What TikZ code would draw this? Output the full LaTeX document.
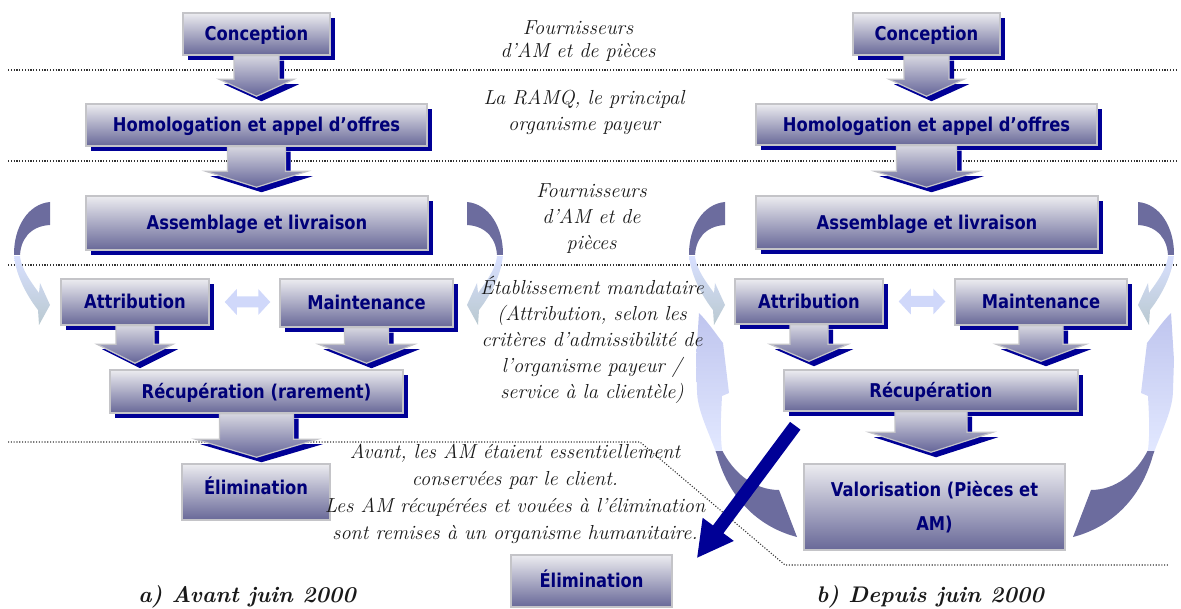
\documentclass[tikz,border=0pt]{standalone}
\usepackage{fontspec}
\usetikzlibrary{shadows,arrows.meta,calc}
\newfontfamily\boxfont[FakeStretch=0.86]{DejaVu Sans}

\definecolor{shadowblue}{RGB}{0,0,150}
\definecolor{textnavy}{RGB}{0,0,120}
\definecolor{boxtop}{RGB}{236,236,240}
\definecolor{boxbot}{RGB}{104,104,152}
\definecolor{boxline}{RGB}{196,196,200}
\definecolor{arrtop}{RGB}{214,214,224}
\definecolor{arrbot}{RGB}{100,100,152}
\definecolor{curvedark}{RGB}{108,108,158}
\definecolor{sltop}{RGB}{216,224,255}
\definecolor{slbot}{RGB}{184,200,206}
\definecolor{bltop}{RGB}{190,196,238}
\definecolor{blmid}{RGB}{164,172,230}
\definecolor{blbot}{RGB}{226,232,255}
\definecolor{dblfill}{RGB}{208,216,250}
\definecolor{notegray}{RGB}{25,25,25}

% block arrow outline from the bottom of one box to just above the next one
% #3 half shaft width, #4 half head width, #5 head length, #6 gap, #7/#8 offset
\newcommand\barrowpath[8]{let \p1=(#1.south), \p2=(#2.north) in
 (\x1-#3+#7,\y1-#8) -- (\x1-#3+#7,\y2+#6+#5-#8) -- (\x1-#4+#7,\y2+#6+#5-#8)
 -- (\x1+#7,\y2+#6-#8) -- (\x1+#4+#7,\y2+#6+#5-#8) -- (\x1+#3+#7,\y2+#6+#5-#8)
 -- (\x1+#3+#7,\y1-#8) -- cycle}
\newcommand\blockarrow[6]{%
 \fill[shadowblue] \barrowpath{#1}{#2}{#3}{#4}{#5}{#6}{5pt}{5pt};
 \path[draw=boxline,line width=1.2pt,top color=arrtop,bottom color=arrbot]
   \barrowpath{#1}{#2}{#3}{#4}{#5}{#6}{0pt}{0pt};}
% two-headed arrow between two boxes of the same row
\newcommand\dblarrow[2]{%
 \fill[dblfill] let \p1=(#1.east), \p2=(#2.west) in
  (\x1+15pt,\y1) -- (\x1+27pt,\y1+13pt) -- (\x1+27pt,\y1+5.5pt) -- (\x2-21pt,\y1+5.5pt)
  -- (\x2-21pt,\y1+13pt) -- (\x2-9pt,\y1) -- (\x2-21pt,\y1-13pt) -- (\x2-21pt,\y1-5.5pt)
  -- (\x1+27pt,\y1-5.5pt) -- (\x1+27pt,\y1-13pt) -- cycle;}
% large return loop, dark back face and light front face
\newcommand\bigloop[1]{%
 \begin{scope}[#1]
   \clip[bigcurve];
   \fill[curvedark] (680,451) rectangle (810,545);
   \shade[top color=bltop,middle color=blmid,bottom color=blbot] (680,310) rectangle (740,451);
 \end{scope}}
% small curved arrow, dark back face and light front face
\newcommand\smallloop[1]{%
 \begin{scope}[#1]
   \clip[smallcurve];
   \fill[curvedark] (-40,-2) rectangle (5,53);
   \shade[top color=sltop,bottom color=slbot] (-40,54.5) rectangle (5,126);
 \end{scope}}

\begin{document}
\begin{tikzpicture}[x=1pt,y=-1pt,
  gbox/.style={draw=boxline,line width=1.5pt,top color=boxtop,bottom color=boxbot,
    inner sep=0pt,font=\boxfont\bfseries\fontsize{19}{23}\selectfont,text=textnavy,align=center},
  oneline/.style={text height=13.5pt,text depth=0pt},
  shadowed/.style={drop shadow={shadow xshift=5pt,shadow yshift=-5pt,fill=shadowblue,opacity=1}},
  itext/.style={font=\itshape\fontsize{20.3}{26}\selectfont,align=center,text=notegray,inner sep=0pt},
  captext/.style={font=\bfseries\itshape\fontsize{22.6}{26}\selectfont,text=notegray,inner sep=0pt},
  dots/.style={line width=1.1pt,dash pattern=on 1.1pt off 1.7pt,black!80},
  smallcurve/.style={insert path={(0,0) .. controls (-22,2) and (-36,25) .. (-36,52)
     .. controls (-35,72) and (-23,94) .. (-12,108) -- (-11,123) -- (0,103) -- (-10,81)
     -- (-11,91) .. controls (-19,80) and (-28,68) .. (-30,55)
     .. controls (-30,38) and (-20,24) .. (0,23) -- cycle}},
  bigcurve/.style={insert path={(797,537) .. controls (762,528) and (730,502) .. (717,455)
     .. controls (708,430) and (697,410) .. (697,390) -- (696,360) -- (699,313)
     .. controls (708,322) and (716,334) .. (723,343) -- (729,393)
     -- (722,396) .. controls (721,415) and (720,432) .. (722,450)
     .. controls (734,474) and (755,490) .. (779,490) -- cycle}},
]
\useasboundingbox (0,0) rectangle (1181,609);

% separators between the actors' bands
\draw[dots] (8,70) -- (1178,70);
\draw[dots] (8,161) -- (1178,161);
\draw[dots] (8,265) -- (1178,265);
\draw[dots] (8,442) -- (640,442) -- (785,565) -- (1168,565);

% large return loops of the recovery cycle
\bigloop{shift={(0,0)}}
\bigloop{shift={(1870,0)},xscale=-1}

% small curved arrows from assembly to attribution / maintenance
\smallloop{shift={(50,202)}}
\smallloop{shift={(467,202)},xscale=-1}
\smallloop{shift={(725,202)}}
\smallloop{shift={(1138,202)},xscale=-1}

% a) before June 2000
\node[gbox,oneline,shadowed,minimum width=147pt,minimum height=42pt] (cA) at (256.5,34) {Conception};
\node[gbox,oneline,shadowed,minimum width=341pt,minimum height=42pt] (hA) at (256.5,125) {Homologation et appel d’offres};
\node[gbox,oneline,shadowed,minimum width=342pt,minimum height=54pt] (aA) at (257,223) {Assemblage et livraison};
\node[gbox,oneline,shadowed,minimum width=148pt,minimum height=46pt] (atA) at (135,302) {Attribution};
\node[gbox,oneline,shadowed,minimum width=173pt,minimum height=48pt] (mA) at (366.5,303) {Maintenance};
\node[gbox,oneline,shadowed,minimum width=293pt,minimum height=43pt] (rA) at (256.5,391.5) {Récupération (rarement)};
\node[gbox,text height=13.5pt,text depth=8pt,minimum width=148pt,minimum height=56pt] (eA) at (256,492) {Élimination};

% b) since June 2000
\node[gbox,oneline,shadowed,minimum width=147pt,minimum height=42pt] (cB) at (926.5,34) {Conception};
\node[gbox,oneline,shadowed,minimum width=341pt,minimum height=41pt] (hB) at (926.5,124.5) {Homologation et appel d’offres};
\node[gbox,oneline,shadowed,minimum width=342pt,minimum height=53pt] (aB) at (927,222.5) {Assemblage et livraison};
\node[gbox,oneline,shadowed,minimum width=148pt,minimum height=45pt] (atB) at (809,301.5) {Attribution};
\node[gbox,oneline,shadowed,minimum width=172pt,minimum height=46pt] (mB) at (1041,302) {Maintenance};
\node[gbox,oneline,shadowed,minimum width=294pt,minimum height=41pt] (rB) at (931,390.5) {Récupération};
\node[gbox,font=\boxfont\bfseries\fontsize{19}{34}\selectfont,minimum width=261pt,minimum height=86pt] (vB) at (934.5,507) {Valorisation (Pièces et\\AM)};
\node[gbox,oneline,minimum width=161pt,minimum height=52pt] (eM) at (591.5,581) {Élimination};

% flow between the stages
\blockarrow{cA}{hA}{22.5pt}{37.5pt}{17pt}{7pt}
\blockarrow{hA}{aA}{29pt}{51pt}{16pt}{8pt}
\blockarrow{atA}{rA}{19pt}{38pt}{19pt}{6pt}
\blockarrow{mA}{rA}{22pt}{48pt}{19pt}{6pt}
\blockarrow{rA}{eA}{37pt}{61pt}{18pt}{6pt}
\blockarrow{cB}{hB}{22.5pt}{37.5pt}{17pt}{7pt}
\blockarrow{hB}{aB}{30pt}{52pt}{16pt}{8pt}
\blockarrow{atB}{rB}{19pt}{39pt}{17pt}{8pt}
\blockarrow{mB}{rB}{22pt}{45pt}{17pt}{8pt}
\blockarrow{rB}{vB}{36pt}{62pt}{20pt}{11pt}
\dblarrow{atA}{mA}
\dblarrow{atB}{mB}

% actors of each band (base anchor = baseline of the last line)
\begin{scope}
  \clip (440,0) rectangle (720,61.5);
  \node[itext,anchor=base] (t1) at (578,57.5) {Fournisseurs\\[-3pt]d’AM et de pièces};
\end{scope}
\node[itext,anchor=base] (t2) at (584,130.5) {La RAMQ, le principal\\organisme payeur};
\node[itext,anchor=base] (t3) at (591.5,249.5) {Fournisseurs\\d’AM et de\\pièces};
\node[itext,anchor=base] (t4) at (592,399) {Établissement mandataire\\(Attribution, selon les\\critères d’admissibilité de\\l’organisme payeur /\\service à la clientèle)};
\node[itext,anchor=base] (t5) at (515,539.5) {Avant, les AM étaient essentiellement\\[1pt]conservées par le client.\\[1pt]Les AM récupérées et vouées à l’élimination\\[1pt]sont remises à un organisme humanitaire.};

\node[captext,anchor=base] (capA) at (247,602) {a) Avant juin 2000};
\node[captext,anchor=base] (capB) at (930,602) {b) Depuis juin 2000};

% disposal path after June 2000
\draw[shadowblue,line width=13pt,-{Triangle[width=36pt,length=36pt]}]
  ($(rB.south west)+(12,14)$) -- ($(eM.north east)+(24,4)$);
\end{tikzpicture}
\end{document}
